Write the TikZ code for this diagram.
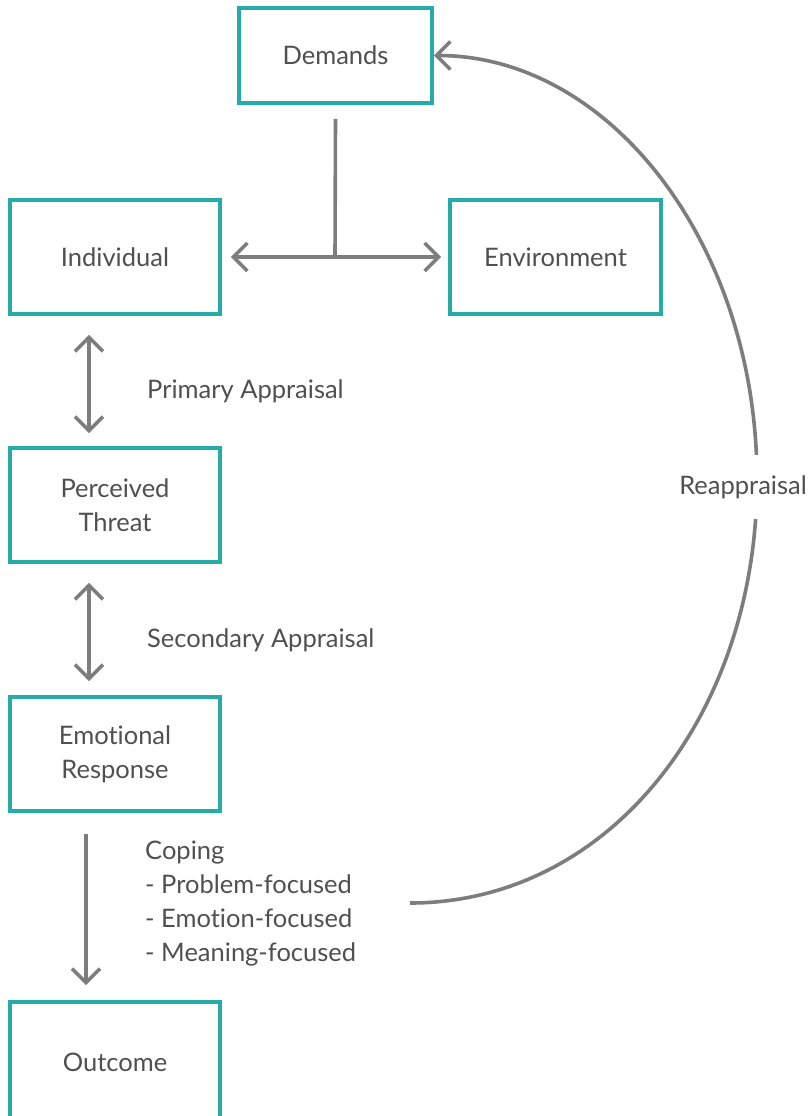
\documentclass[tikz,border=0pt]{standalone}
\usepackage{fontspec}
\setmainfont{Lato}[Ligatures=NoCommon]
\usepackage{tikz}
\usetikzlibrary{arrows.meta,positioning,calc}
\definecolor{boxteal}{RGB}{38,172,168}
\definecolor{linegrey}{RGB}{125,125,125}
\definecolor{textgrey}{RGB}{80,80,80}
\tikzset{
  base/.style={font=\fontsize{25.5}{34}\selectfont, align=center, inner sep=2pt, text=textgrey},
  box/.style={base, rectangle, draw=boxteal, fill=white, line width=3.6pt, minimum height=114pt, minimum width=210pt},
  lbl/.style={base, align=left, anchor=west},
  arr/.style={-{Straight Barb[length=14pt,width=28pt]}, line width=3.6pt, draw=linegrey},
  arr2/.style={arr, {Straight Barb[length=14pt,width=28pt]}-{Straight Barb[length=14pt,width=28pt]}},
  plain/.style={line width=3.6pt, draw=linegrey},
}
\begin{document}
\begin{tikzpicture}[x=1pt,y=-1pt]
  \useasboundingbox (0,0) rectangle (811,1116);
  \node[box,minimum width=193pt,minimum height=95pt] (dem) at (335.5,55.5) {Demands};
  \node[box] (ind) at (115,257)    {Individual};
  \node[box,minimum width=211pt] (env) at (555.5,257) {Environment};
  \node[box] (thr) at (115,505)    {Perceived\\Threat};
  \node[box] (emo) at (115,754)    {Emotional\\Response};
  \node[box,minimum height=120pt] (out) at (115,1062) {Outcome};
  % demands meet individual and environment
  \coordinate (tee) at (335,257);
  \draw[plain] ([yshift=-14pt]dem.south) -- (tee);
  \draw[arr2,shorten <=9pt,shorten >=7pt] (ind.east) -- (env.west);
  % appraisal steps
  \draw[arr2,shorten <=19pt,shorten >=13pt] ([xshift=-26pt]ind.south) -- ([xshift=-26pt]thr.north);
  \node[lbl] (prim) at (145,391) {Primary Appraisal};
  \draw[arr2,shorten <=19pt,shorten >=14pt] ([xshift=-26pt]thr.south) -- ([xshift=-26pt]emo.north);
  \node[lbl] (sec) at (145,640) {Secondary Appraisal};
  \draw[arr,shorten <=21pt,shorten >=15pt] ([xshift=-29pt]emo.south) -- ([xshift=-29pt]out.north);
  \node[lbl] (cop) at (143,904) {Coping\\- Problem-focused\\- Emotion-focused\\- Meaning-focused};
  % reappraisal loop back to demands
  \coordinate (back) at (410,903);
  \draw[arr] (back) .. controls (610,903) and (757,714) .. (757,480)
    .. controls (757,246) and (611,55.5) .. (dem.east);
  \node[base,fill=white,inner xsep=1pt,inner ysep=20pt] (reap) at (743,487) {Reappraisal};
\end{tikzpicture}
\end{document}
